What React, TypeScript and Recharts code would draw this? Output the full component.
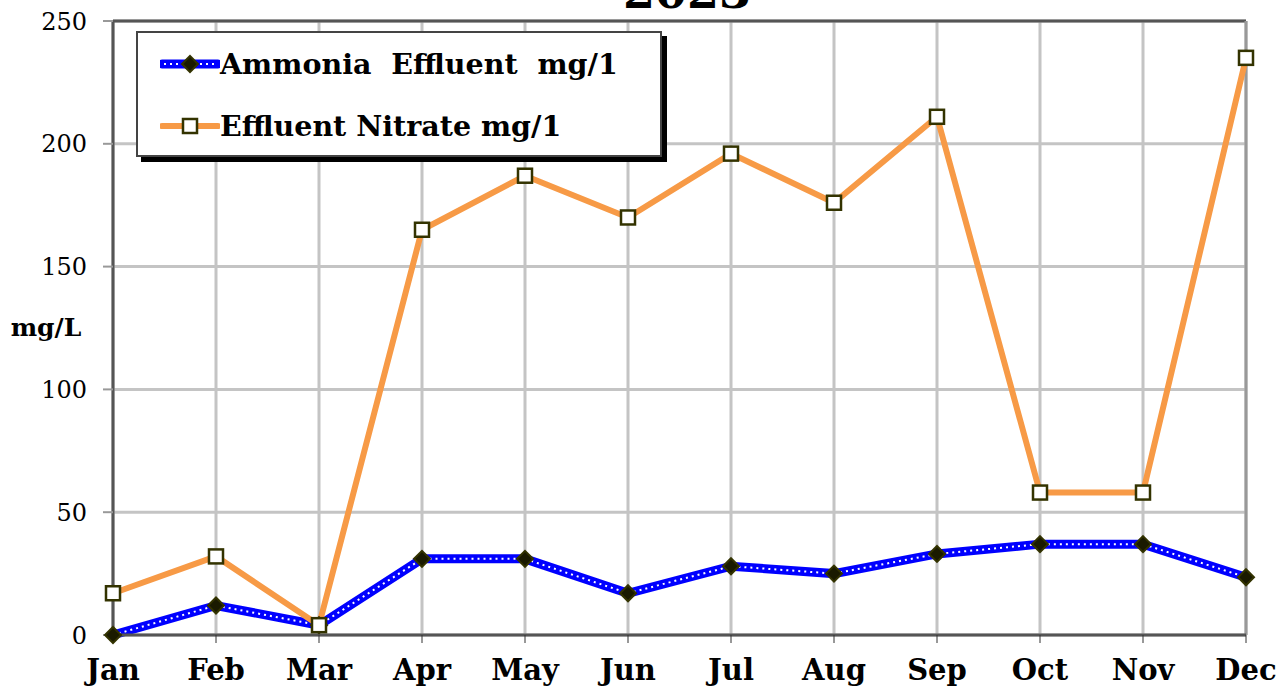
import React from "react"
import {
  LineChart,
  Line,
  XAxis,
  YAxis,
  CartesianGrid,
  ReferenceLine,
} from "recharts"

const months = ["Jan", "Feb", "Mar", "Apr", "May", "Jun", "Jul", "Aug", "Sep", "Oct", "Nov", "Dec"]
const ammonia = [0, 12, 4, 31, 31, 17, 28, 25, 33, 37, 37, 23.5]
const nitrate = [17, 32, 4, 165, 187, 170, 196, 176, 211, 58, 58, 235]
const yTicks = [0, 50, 100, 150, 200, 250]

const data = months.map((m, i) => ({ month: m, ammonia: ammonia[i], nitrate: nitrate[i] }))

const SERIF = "'DejaVu Serif', serif"
const BLUE = "#0000ff"
const ORANGE = "#f79a46"
const MARKER_EDGE = "#333300"

const Diamond = (props: any) => {
  const { cx, cy, index } = props
  if (cx == null || cy == null) return <g key={`dia-${index}`} />
  const r = 8
  return (
    <path
      key={`dia-${index}`}
      d={`M${cx},${cy - r} L${cx + r},${cy} L${cx},${cy + r} L${cx - r},${cy} Z`}
      fill="#1a1a00"
      stroke={MARKER_EDGE}
      strokeWidth={2}
    />
  )
}

const Square = (props: any) => {
  const { cx, cy, index } = props
  if (cx == null || cy == null) return <g key={`sq-${index}`} />
  return (
    <rect
      key={`sq-${index}`}
      x={cx - 7}
      y={cy - 7}
      width={14}
      height={14}
      fill="#ffffff"
      stroke={MARKER_EDGE}
      strokeWidth={2.5}
    />
  )
}

// legend drawn as an overlay box (the chart legend would eat plot space)
function LegendBox() {
  const row = (label: string, kind: "a" | "n") => (
    <div style={{ display: "flex", alignItems: "center", height: 62 }}>
      <svg width={60} height={20} style={{ marginLeft: 22 }}>
        {kind === "a" ? (
          <>
            <line x1={2} y1={10} x2={58} y2={10} stroke={BLUE} strokeWidth={9} strokeLinecap="round" />
            <line x1={4} y1={10} x2={58} y2={10} stroke="#fff" strokeWidth={2} strokeDasharray="2 4" />
            <path d="M30,2 L38,10 L30,18 L22,10 Z" fill="#1a1a00" stroke={MARKER_EDGE} strokeWidth={2} />
          </>
        ) : (
          <>
            <line x1={2} y1={10} x2={58} y2={10} stroke={ORANGE} strokeWidth={6} strokeLinecap="round" />
            <rect x={23} y={3} width={14} height={14} fill="#fff" stroke={MARKER_EDGE} strokeWidth={2.5} />
          </>
        )}
      </svg>
      <span
        style={{
          fontFamily: SERIF,
          fontWeight: "bold",
          fontSize: 28.5,
          whiteSpace: "pre",
          color: "#000",
        }}
      >
        {label}
      </span>
    </div>
  )
  return (
    <div
      style={{
        position: "absolute",
        left: 136,
        top: 31,
        width: 526,
        height: 126,
        background: "#fff",
        border: "2px solid #444",
        boxShadow: "5px 5px 0 #000",
        boxSizing: "border-box",
      }}
    >
      {row("Ammonia  Effluent  mg/1", "a")}
      {row("Effluent Nitrate mg/1", "n")}
    </div>
  )
}

export default function App() {
  return (
    <div style={{ position: "absolute", left: 0, top: 0, width: 1288, height: 694, background: "#fff" }}>
      <LineChart
        width={1288}
        height={694}
        data={data}
        margin={{ top: 21, right: 42, left: 53, bottom: 9 }}
      >
        <CartesianGrid stroke="#c4c4c4" strokeWidth={3} />
        <XAxis
          dataKey="month"
          height={50}
          interval={0}
          axisLine={{ stroke: "#555", strokeWidth: 3 }}
          tickLine={{ stroke: "#333", strokeWidth: 1 }}
          tickSize={8}
          tickMargin={16}
          tick={{ fill: "#000", fontSize: 29, fontWeight: "bold", fontFamily: SERIF }}
        />
        <YAxis
          width={60}
          domain={[0, 250]}
          ticks={yTicks}
          axisLine={{ stroke: "#555", strokeWidth: 3 }}
          tickLine={{ stroke: "#999", strokeWidth: 2 }}
          tickSize={10}
          tickMargin={16}
          tick={{ fill: "#000", fontSize: 24, fontFamily: SERIF }}
          label={(p: any) => {
            const vb = p.viewBox || {}
            return (
              <text
                x={vb.x - 7}
                y={vb.y + vb.height / 2 + 8}
                textAnchor="middle"
                fontFamily={SERIF}
                fontWeight="bold"
                fontSize={25}
                fill="#000"
              >
                mg/L
              </text>
            )
          }}
        />
        <ReferenceLine y={250} stroke="#555" strokeWidth={3} />
        <ReferenceLine x="Dec" stroke="#999" strokeWidth={3} />
        <Line
          dataKey="ammonia"
          stroke={BLUE}
          strokeWidth={9}
          dot={false}
          activeDot={false}
          legendType="none"
          isAnimationActive={false}
        />
        <Line
          dataKey="ammonia"
          stroke="#ffffff"
          strokeWidth={2}
          strokeDasharray="2 4"
          dot={Diamond}
          activeDot={false}
          isAnimationActive={false}
        />
        <Line
          dataKey="nitrate"
          stroke={ORANGE}
          strokeWidth={6}
          dot={Square}
          activeDot={false}
          isAnimationActive={false}
        />
      </LineChart>
      <LegendBox />
      <svg
        width={1288}
        height={40}
        style={{ position: "absolute", left: 0, top: 0, pointerEvents: "none" }}
      >
        <text x={687} y={8} textAnchor="middle" fontFamily={SERIF} fontWeight="bold" fontSize={46} fill="#000">
          2023
        </text>
      </svg>
    </div>
  )
}
